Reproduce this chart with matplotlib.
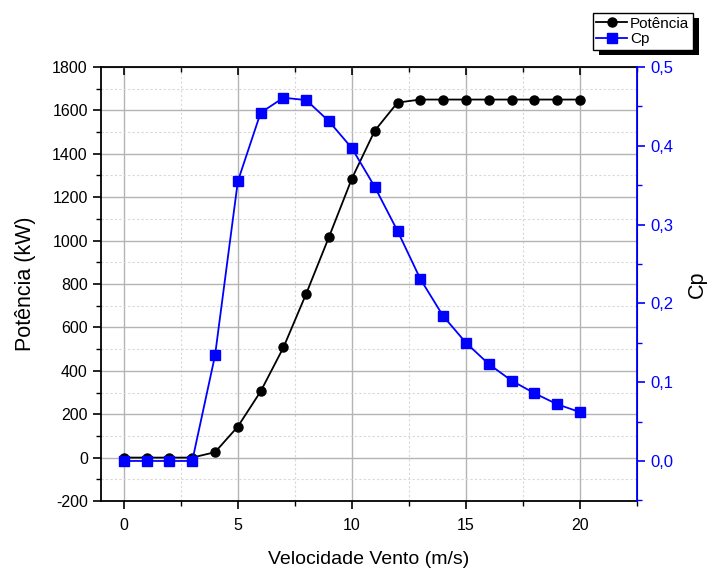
import matplotlib
matplotlib.use("Agg")
import matplotlib.pyplot as plt
from matplotlib.ticker import MultipleLocator, FuncFormatter
from matplotlib.patches import Rectangle

plt.rcParams['font.family'] = ['Liberation Sans', 'DejaVu Sans']
plt.rcParams['axes.unicode_minus'] = False

velocidade = [0, 1, 2, 3, 4, 5, 6, 7, 8, 9, 10, 11, 12, 13, 14, 15, 16, 17, 18, 19, 20]
potencia = [0, 0, 0, 0, 25, 143, 305, 508, 756, 1018, 1286, 1506, 1636, 1650, 1650, 1650,
            1650, 1650, 1650, 1650, 1650]
cp = [0, 0, 0, 0, 0.134, 0.355, 0.442, 0.461, 0.458, 0.431, 0.397, 0.348, 0.292, 0.231,
      0.184, 0.150, 0.123, 0.102, 0.086, 0.072, 0.062]

fig = plt.figure(figsize=(7.07, 5.70), dpi=100)
ax = fig.add_axes([101/707, 1-501/570, (637-101)/707, (501-67)/570])
ax2 = ax.twinx()

l1, = ax.plot(velocidade, potencia, '-o', color='black', lw=1.3, ms=6.5, label='Potência', zorder=3)
l2, = ax2.plot(velocidade, cp, '-s', color='#0000ff', lw=1.3, ms=6.5, label='Cp', zorder=3)

ax.set_xlim(-1, 22.5)
ax.set_ylim(-200, 1800)
ax2.set_ylim(-0.0508, 0.5)

ax.xaxis.set_major_locator(MultipleLocator(5))
ax.xaxis.set_minor_locator(MultipleLocator(2.5))
ax.yaxis.set_major_locator(MultipleLocator(200))
ax.yaxis.set_minor_locator(MultipleLocator(100))
ax2.yaxis.set_major_locator(MultipleLocator(0.1))
ax2.yaxis.set_minor_locator(MultipleLocator(0.05))
ax2.yaxis.set_major_formatter(FuncFormatter(lambda v, p: f"{v:.1f}".replace('.', ',')))

ax.grid(which='major', color='#b4b4b4', lw=1.0, ls='-')
ax.grid(which='minor', color='#d8d8d8', lw=0.8, ls=(0, (2, 2)))
ax.set_axisbelow(True)

ax.tick_params(axis='both', which='major', direction='out', length=6, width=1.2, labelsize=11.5)
ax.tick_params(axis='both', which='minor', direction='out', length=3.5, width=1.0)
ax.tick_params(axis='x', which='both', top=True, pad=6)
for t in ax.xaxis.get_major_ticks():
    t.tick2line.set_marker(3)  # inward on top
for t in ax.xaxis.get_minor_ticks():
    t.tick2line.set_marker(3)

ax2.tick_params(axis='y', which='major', direction='out', length=6, width=1.2, labelsize=12,
                colors='#0000ff')
ax2.tick_params(axis='y', which='minor', direction='out', length=3.5, width=1.0, colors='#0000ff')

for s in ['left', 'bottom', 'top']:
    ax.spines[s].set_linewidth(1.3)
ax2.spines['right'].set_color('#0000ff')
ax2.spines['right'].set_linewidth(1.3)
ax2.spines['left'].set_visible(False)
ax2.spines['top'].set_visible(False)
ax2.spines['bottom'].set_visible(False)

ax.set_xlabel('Velocidade Vento (m/s)', fontsize=14, labelpad=13)
ax.set_ylabel('Potência (kW)', fontsize=15.5, labelpad=12)
ax2.set_ylabel('Cp', fontsize=15.5, labelpad=10)

leg = fig.legend(handles=[l1, l2], loc='upper right', bbox_to_anchor=(693/707, 1-13/570),
                 fontsize=11, frameon=True, fancybox=False, edgecolor='black',
                 handlelength=2.0, borderpad=0.25, labelspacing=0.1, handletextpad=0.2,
                 borderaxespad=0, framealpha=1)
leg.get_frame().set_linewidth(1.0)
leg.set_zorder(10)

fig.canvas.draw()
bb = leg.get_window_extent()
shadow = Rectangle((bb.x0 + 6, bb.y0 - 5), bb.width, bb.height, transform=None,
                   facecolor='black', edgecolor='none', zorder=9)
fig.patches.append(shadow)
shadow.set_figure(fig)

fig.savefig('out.png', dpi=100)
